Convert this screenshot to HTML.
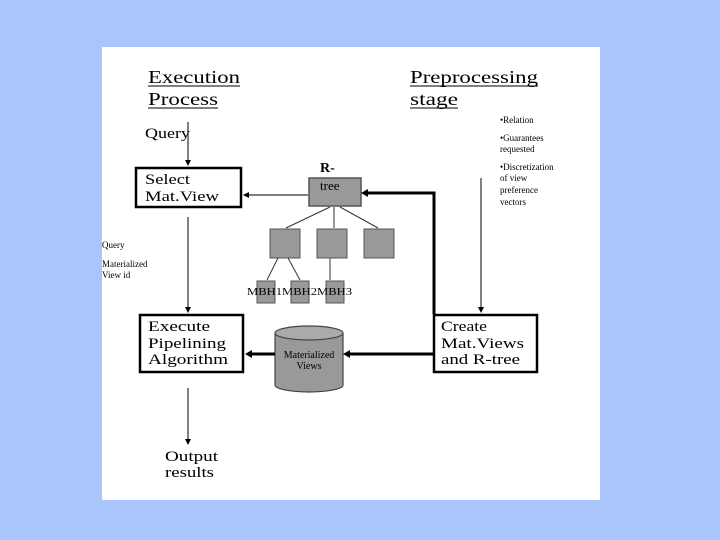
<!DOCTYPE html>
<html><head><style>
html,body{margin:0;padding:0;background:#aac4fc;width:720px;height:540px;overflow:hidden}
svg{position:absolute;left:0;top:0}
text{font-family:"Liberation Serif",serif;fill:#000}
</style></head><body>
<svg width="720" height="540" viewBox="0 0 720 540">
<defs>
<marker id="a" markerWidth="6" markerHeight="6" refX="5" refY="3" orient="auto" markerUnits="userSpaceOnUse"><path d="M0,0 L6,3 L0,6z" fill="#000"/></marker>
</defs>
<rect x="102" y="47" width="498" height="453" fill="#fff"/>
<!-- headings -->
<text x="148" y="83" font-size="18" textLength="92" lengthAdjust="spacingAndGlyphs">Execution</text>
<line x1="148" y1="86" x2="240" y2="86" stroke="#000"/>
<text x="148" y="105" font-size="18" textLength="70" lengthAdjust="spacingAndGlyphs">Process</text>
<line x1="148" y1="108" x2="218" y2="108" stroke="#000"/>
<text x="410" y="83" font-size="18" textLength="128" lengthAdjust="spacingAndGlyphs">Preprocessing</text>
<line x1="410" y1="86" x2="538" y2="86" stroke="#000"/>
<text x="410" y="105" font-size="18" textLength="48" lengthAdjust="spacingAndGlyphs">stage</text>
<line x1="410" y1="108" x2="458" y2="108" stroke="#000"/>
<g font-size="9" fill="#333">
<text x="500" y="123">•Relation</text>
<text x="500" y="141">•Guarantees</text>
<text x="500" y="152">requested</text>
<text x="500" y="170">•Discretization</text>
<text x="500" y="181">of view</text>
<text x="500" y="193">preference</text>
<text x="500" y="205">vectors</text>
<text x="102" y="248">Query</text>
<text x="102" y="267">Materialized</text>
<text x="102" y="278">View id</text>
</g>
<text x="145" y="138" font-size="15" textLength="45" lengthAdjust="spacingAndGlyphs">Query</text>
<line x1="188" y1="122" x2="188" y2="165" stroke="#000" marker-end="url(#a)"/>
<!-- Select box -->
<rect x="136" y="168" width="105" height="39" fill="#fff" stroke="#000" stroke-width="2.5"/>
<text x="145" y="184" font-size="15" textLength="45" lengthAdjust="spacingAndGlyphs">Select</text>
<text x="145" y="201" font-size="15" textLength="74" lengthAdjust="spacingAndGlyphs">Mat.View</text>
<line x1="188" y1="217" x2="188" y2="312" stroke="#000" marker-end="url(#a)"/>
<!-- R-tree -->
<text x="320" y="172" font-size="14" font-weight="bold">R-</text>
<rect x="309" y="178" width="52" height="28" fill="#999" stroke="#555" stroke-width="1.5"/>
<text x="320" y="190" font-size="13">tree</text>
<line x1="308" y1="195" x2="244" y2="195" stroke="#555" stroke-width="1.5" marker-end="url(#a)"/>
<g stroke="#333">
<line x1="330" y1="207" x2="286" y2="228"/>
<line x1="334" y1="207" x2="334" y2="228"/>
<line x1="340" y1="207" x2="378" y2="228"/>
<line x1="278" y1="258" x2="267" y2="280"/>
<line x1="288" y1="258" x2="300" y2="280"/>
<line x1="330" y1="258" x2="330" y2="280"/>
</g>
<g fill="#999" stroke="#555">
<rect x="270" y="229" width="30" height="29"/>
<rect x="317" y="229" width="30" height="29"/>
<rect x="364" y="229" width="30" height="29"/>
<rect x="257" y="281" width="18" height="22"/>
<rect x="291" y="281" width="18" height="22"/>
<rect x="326" y="281" width="18" height="22"/>
</g>
<text x="247" y="295" font-size="10" fill="#444" textLength="105" lengthAdjust="spacingAndGlyphs">MBH1MBH2MBH3</text>
<!-- thick connector to R-tree -->
<polyline points="434,314 434,193 364,193" fill="none" stroke="#000" stroke-width="3"/>
<path d="M361,193 L368,189 L368,197z" fill="#000"/>
<line x1="481" y1="178" x2="481" y2="312" stroke="#000" marker-end="url(#a)"/>
<!-- Execute box -->
<rect x="140" y="315" width="103" height="57" fill="#fff" stroke="#000" stroke-width="2.5"/>
<text x="148" y="331" font-size="15" textLength="62" lengthAdjust="spacingAndGlyphs">Execute</text>
<text x="148" y="348" font-size="15" textLength="78" lengthAdjust="spacingAndGlyphs">Pipelining</text>
<text x="148" y="364" font-size="15" textLength="80" lengthAdjust="spacingAndGlyphs">Algorithm</text>
<!-- Create box -->
<rect x="434" y="315" width="103" height="57" fill="#fff" stroke="#000" stroke-width="2.5"/>
<text x="441" y="331" font-size="15" textLength="46" lengthAdjust="spacingAndGlyphs">Create</text>
<text x="441" y="348" font-size="15" textLength="83" lengthAdjust="spacingAndGlyphs">Mat.Views</text>
<text x="441" y="364" font-size="15" textLength="79" lengthAdjust="spacingAndGlyphs">and R-tree</text>
<!-- cylinder -->
<path d="M275,333 L275,385 A34,7 0 0 0 343,385 L343,333" fill="#999" stroke="#444" stroke-width="1.2"/>
<ellipse cx="309" cy="333" rx="34" ry="7" fill="#aaa" stroke="#444" stroke-width="1.2"/>
<line x1="434" y1="354" x2="348" y2="354" stroke="#000" stroke-width="3"/>
<path d="M343,354 L350,350 L350,358z" fill="#000"/>
<line x1="275" y1="354" x2="250" y2="354" stroke="#000" stroke-width="3"/>
<path d="M245,354 L252,350 L252,358z" fill="#000"/>
<text x="309" y="358" font-size="10" text-anchor="middle" fill="#333">Materialized</text>
<text x="309" y="369" font-size="10" text-anchor="middle" fill="#333">Views</text>
<line x1="188" y1="388" x2="188" y2="444" stroke="#000" marker-end="url(#a)"/>
<text x="165" y="461" font-size="15" textLength="53" lengthAdjust="spacingAndGlyphs">Output</text>
<text x="165" y="477" font-size="15" textLength="49" lengthAdjust="spacingAndGlyphs">results</text>
</svg>
</body></html>
